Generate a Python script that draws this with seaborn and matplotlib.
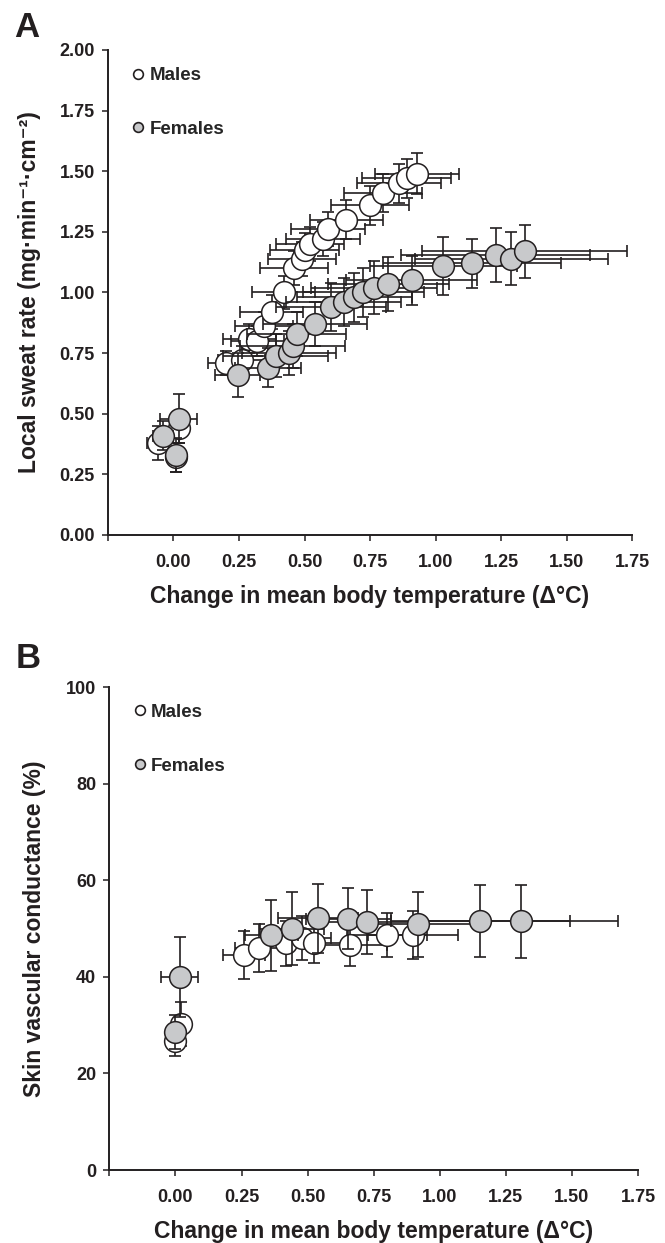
import numpy as np
import pandas as pd
import matplotlib
matplotlib.use("Agg")
import matplotlib.pyplot as plt
import seaborn as sns
from matplotlib.lines import Line2D

# ---------------- data: panel A (local sweat rate) ----------------
a_male_x = [-0.06, 0.02, 0.01, 0.20, 0.26, 0.29, 0.32, 0.345, 0.375, 0.42, 0.46, 0.49,
            0.50, 0.52, 0.57, 0.59, 0.66, 0.75, 0.80, 0.86, 0.89, 0.93]
a_male_y = [0.38, 0.44, 0.32, 0.71, 0.72, 0.81, 0.80, 0.86, 0.92, 1.00, 1.10, 1.14,
            1.175, 1.20, 1.22, 1.26, 1.30, 1.36, 1.41, 1.45, 1.47, 1.49]
a_male_xerr = [0.04, 0.03, 0.02, 0.07, 0.09, 0.10, 0.10, 0.11, 0.12, 0.12, 0.13, 0.13,
               0.13, 0.13, 0.14, 0.14, 0.14, 0.15, 0.15, 0.16, 0.17, 0.16]
a_male_yerr = [0.07, 0.06, 0.06, 0.05, 0.06, 0.06, 0.06, 0.06, 0.07, 0.07, 0.07, 0.07,
               0.07, 0.07, 0.07, 0.07, 0.08, 0.08, 0.08, 0.08, 0.08, 0.085]

a_female_x = [-0.04, 0.02, 0.01, 0.245, 0.36, 0.39, 0.44, 0.455, 0.47, 0.54, 0.60, 0.65,
              0.69, 0.725, 0.765, 0.82, 0.91, 1.03, 1.14, 1.23, 1.29, 1.34]
a_female_y = [0.41, 0.48, 0.33, 0.66, 0.69, 0.74, 0.75, 0.78, 0.83, 0.87, 0.94, 0.96,
              0.98, 1.00, 1.02, 1.035, 1.05, 1.11, 1.12, 1.155, 1.14, 1.17]
a_female_xerr = [0.04, 0.07, 0.03, 0.085, 0.125, 0.20, 0.18, 0.20, 0.19, 0.20, 0.21, 0.22,
                 0.22, 0.23, 0.24, 0.23, 0.25, 0.28, 0.34, 0.36, 0.37, 0.39]
a_female_yerr = [0.06, 0.10, 0.07, 0.09, 0.08, 0.09, 0.09, 0.09, 0.09, 0.09, 0.10, 0.10,
                 0.10, 0.10, 0.11, 0.11, 0.10, 0.12, 0.10, 0.11, 0.11, 0.11]

# ---------------- data: panel B (skin vascular conductance) ----------------
b_male_x = [0.00, 0.02, 0.26, 0.315, 0.42, 0.48, 0.525, 0.66, 0.80, 0.90]
b_male_y = [26.7, 30.2, 44.5, 45.9, 46.9, 48.0, 47.1, 46.6, 48.7, 48.7]
b_male_xerr = [0.02, 0.03, 0.08, 0.09, 0.10, 0.11, 0.12, 0.14, 0.15, 0.17]
b_male_yerr = [3.0, 4.5, 5.0, 5.0, 4.7, 4.5, 4.2, 4.3, 4.5, 5.0]

b_female_x = [0.00, 0.016, 0.363, 0.441, 0.539, 0.654, 0.726, 0.916, 1.154, 1.306]
b_female_y = [28.6, 40.0, 48.6, 50.0, 52.1, 52.0, 51.4, 50.9, 51.6, 51.5]
b_female_xerr = [0.02, 0.07, 0.10, 0.12, 0.15, 0.16, 0.18, 0.25, 0.34, 0.37]
b_female_yerr = [3.5, 8.3, 7.3, 7.6, 7.2, 6.3, 6.6, 6.7, 7.4, 7.5]

x_ticks = [-0.25, 0.00, 0.25, 0.50, 0.75, 1.00, 1.25, 1.50, 1.75]
x_tick_labels = ["", "0.00", "0.25", "0.50", "0.75", "1.00", "1.25", "1.50", "1.75"]
a_y_ticks = [0.00, 0.25, 0.50, 0.75, 1.00, 1.25, 1.50, 1.75, 2.00]
a_y_tick_labels = ["0.00", "0.25", "0.50", "0.75", "1.00", "1.25", "1.50", "1.75", "2.00"]
b_y_ticks = [0, 20, 40, 60, 80, 100]
b_y_tick_labels = ["0", "20", "40", "60", "80", "100"]
groups = ["Males", "Females"]

# ---------------- style ----------------
sns.set_style("ticks")
plt.rcParams["font.family"] = ["Liberation Sans", "DejaVu Sans"]
plt.rcParams["font.weight"] = "bold"
plt.rcParams["axes.labelweight"] = "bold"

INK = "#231f20"
GREY = "#c8c9cb"
colors = {"Males": "white", "Females": GREY}

fig = plt.figure(figsize=(6.65, 12.43), dpi=100)
axA = fig.add_axes([0.1624, 0.5696, 0.788, 0.3902])
axB = fig.add_axes([0.1645, 0.0587, 0.7949, 0.3886])


def draw(ax, data, xlabel, ylabel, yticks, ylabels, ylim, ylab_x):
    z = 2
    for g in groups:
        x, y, xe, ye = data[g]
        ax.errorbar(x, y, xerr=xe, yerr=ye, fmt="none", ecolor=INK,
                    elinewidth=1.2, capsize=4.2, capthick=1.2, zorder=z)
        df = pd.DataFrame({"x": x, "y": y, "sex": g})
        sns.scatterplot(data=df, x="x", y="y", ax=ax, color=colors[g],
                        edgecolor=INK, linewidth=1.1, s=245, zorder=z + 1,
                        legend=False)
        z += 2
    ax.set_xlim(-0.25, 1.75)
    ax.set_ylim(*ylim)
    ax.set_xticks(x_ticks)
    ax.set_xticklabels(x_tick_labels)
    ax.set_yticks(yticks)
    ax.set_yticklabels(ylabels)
    for s in ["top", "right"]:
        ax.spines[s].set_visible(False)
    for s in ["left", "bottom"]:
        ax.spines[s].set_linewidth(1.4)
        ax.spines[s].set_color(INK)
    ax.tick_params(axis="both", direction="out", length=4.5, width=1.1,
                   color=INK, labelsize=13, labelcolor=INK)
    ax.tick_params(axis="x", pad=9)
    ax.tick_params(axis="y", pad=5)
    for lab in ax.get_xticklabels() + ax.get_yticklabels():
        lab.set_fontweight("bold")
    ax.set_xlabel(xlabel, fontsize=16.5, fontweight="bold", color=INK, labelpad=10)
    ax.set_ylabel(ylabel, fontsize=16.5, fontweight="bold", color=INK)
    ax.yaxis.set_label_coords(ylab_x, 0.5)

    handles = [Line2D([], [], marker="o", linestyle="none", markersize=7,
                      markerfacecolor=colors[g], markeredgecolor=INK,
                      markeredgewidth=1.2) for g in groups]
    ax.legend(handles, groups, loc="upper left", bbox_to_anchor=(0.047, 0.965),
              frameon=False, handlelength=0.6, handletextpad=0.3,
              labelspacing=1.95, borderaxespad=0, borderpad=0,
              prop={"weight": "bold", "size": 13.5})


draw(axA,
     {"Males": (a_male_x, a_male_y, a_male_xerr, a_male_yerr),
      "Females": (a_female_x, a_female_y, a_female_xerr, a_female_yerr)},
     "Change in mean body temperature (\u0394\u00b0C)",
     "Local sweat rate (mg\u00b7min\u207b\u00b9\u00b7cm\u207b\u00b2)",
     a_y_ticks, a_y_tick_labels, (0, 2.0), -0.128)

draw(axB,
     {"Males": (b_male_x, b_male_y, b_male_xerr, b_male_yerr),
      "Females": (b_female_x, b_female_y, b_female_xerr, b_female_yerr)},
     "Change in mean body temperature (\u0394\u00b0C)",
     "Skin vascular conductance (%)",
     b_y_ticks, b_y_tick_labels, (0, 100), -0.12)

fig.text(0.040, 0.978, "A", fontsize=25, fontweight="bold", color=INK,
         ha="center", va="center")
fig.text(0.042, 0.470, "B", fontsize=25, fontweight="bold", color=INK,
         ha="center", va="center")

fig.savefig("out.png", dpi=100)
